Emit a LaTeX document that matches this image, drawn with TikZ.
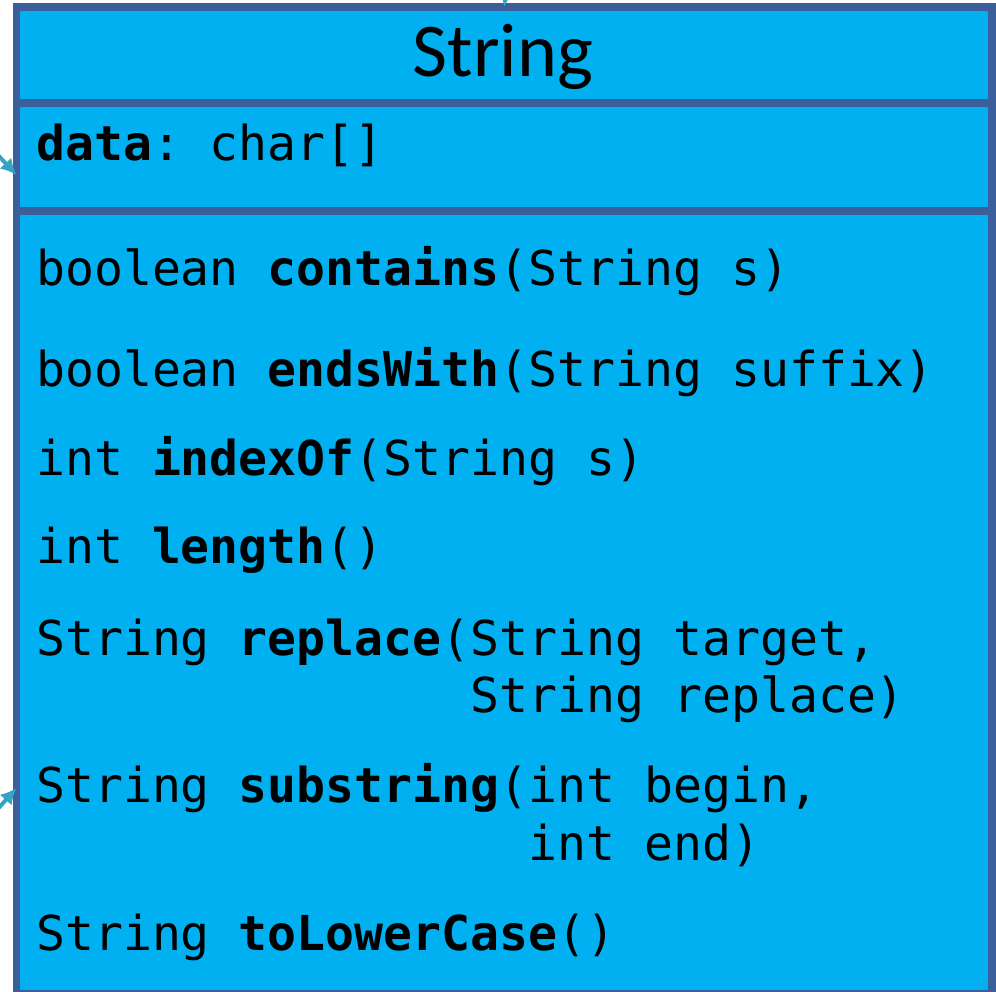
\documentclass[tikz,border=0pt]{standalone}
\usepackage{fontspec}
\setmainfont{Carlito}
\setmonofont{DejaVu Sans Mono}
\usepackage{tikz}
\usetikzlibrary{positioning,calc}
\usetikzlibrary{shapes,arrows,arrows.meta}
\definecolor{umlfill}{HTML}{00B0F0}
\definecolor{umlborder}{HTML}{3B5F9B}
\definecolor{linkcol}{HTML}{35A3C6}
\tikzstyle{compartment} = [rectangle, draw=umlborder, fill=umlfill, line width=7.5pt,
    minimum width=975.5pt, inner sep=0pt, outer sep=0pt, anchor=north west]
\tikzstyle{member} = [anchor=base west, inner sep=0pt,
    font=\fontsize{48.1}{57}\selectfont\ttfamily]
\tikzstyle{line} = [draw, -{Latex[length=16pt,width=16pt]}, linkcol, line width=4pt]

\begin{document}
\begin{tikzpicture}[x=1pt, y=-1pt]
    \useasboundingbox (0,0) rectangle (996,991);
    \clip (0,0) rectangle (996,991);
    % Place compartments
    \node [compartment, minimum height=96pt] (title) at (16.5,7) {};
    \node [compartment, minimum height=108pt] (attr) at (title.south west) {};
    \node [compartment, minimum height=783pt] (methods) at (attr.south west) {};
    % Class name and members
    \node [anchor=base, inner sep=0pt, font=\fontsize{76}{80}\selectfont] (name) at (503,76) {String};
    \node [member] (data) at (36,160) {\textbf{data}: char[]};
    \node [member] (contains) at (36,285) {boolean \textbf{contains}(String s)};
    \node [member] (ends) at (36,386) {boolean \textbf{endsWith}(String suffix)};
    \node [member] (index) at (36,475) {int \textbf{indexOf}(String s)};
    \node [member] (length) at (36,563) {int \textbf{length}()};
    \node [member] (replace) at (36,655) {String \textbf{replace}(String target,};
    \node [member] (replace2) at (36,712) {\phantom{String replace(}String replace)};
    \node [member] (substr) at (36,802) {String \textbf{substring}(int begin,};
    \node [member] (substr2) at (36,860) {\phantom{String substring(}int end)};
    \node [member] (lower) at (36,950) {String \textbf{toLowerCase}()};
%    % Draw edges coming in from outside
    \coordinate (fromA) at (-30,125);
    \coordinate (fromB) at (-30,840);
    \coordinate (fromC) at (512,-60);
    \path [line] (fromA) -- ($(attr.west)+(0,18)$);
    \path [line] (fromB) -- ($(methods.north west)+(0,577)$);
    \path [line] (fromC) -- (title.north);
\end{tikzpicture}
\end{document}
